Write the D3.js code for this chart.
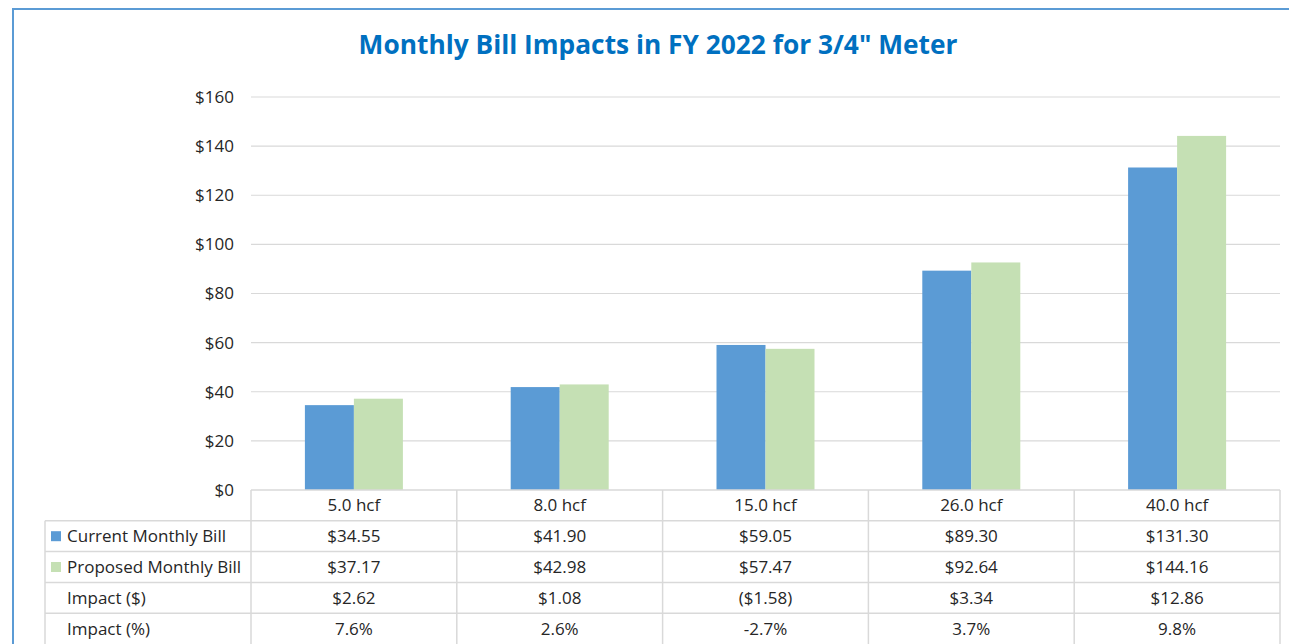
<!DOCTYPE html>
<html>
<head>
<meta charset="utf-8">
<script src="https://cdn.jsdelivr.net/npm/d3@7"></script>
<style>
  body { margin: 0; background: #fff; }
  svg { display: block; font-family: "Open Sans", Lato, sans-serif; }
</style>
</head>
<body>
<div id="chart"></div>
<script>
const categories = ["5.0 hcf", "8.0 hcf", "15.0 hcf", "26.0 hcf", "40.0 hcf"];
const currentBill = [34.55, 41.90, 59.05, 89.30, 131.30];
const proposedBill = [37.17, 42.98, 57.47, 92.64, 144.16];
const yTicks = [0, 20, 40, 60, 80, 100, 120, 140, 160];
const seriesNames = ["Current Monthly Bill", "Proposed Monthly Bill"];
const colours = ["#5b9bd5", "#c5e0b4"];

const width = 1289;
const height = 644;
const margin = { top: 97, left: 251, right: 9, bottom: 154 };
const fontSize = "17px";
const textCol = "#262626";

const svg = d3
  .select("#chart")
  .append("svg")
  .attr("width", width)
  .attr("height", height);

// chart frame (only left + top visible)
svg.append("rect")
  .attr("x", 13).attr("y", 9)
  .attr("width", 1400).attr("height", 800)
  .attr("fill", "#fff")
  .attr("stroke", "#5b9bd5")
  .attr("stroke-width", 2);

svg.append("text")
  .attr("x", 658).attr("y", 54)
  .attr("text-anchor", "middle")
  .attr("font-size", "26.3px")
  .attr("font-weight", "bold")
  .attr("fill", "#0070c0")
  .text('Monthly Bill Impacts in FY 2022 for 3/4" Meter');

const x = d3.scaleBand()
  .domain(categories)
  .range([margin.left, width - margin.right]);

const y = d3.scaleLinear()
  .domain([0, 160])
  .range([height - margin.bottom, margin.top]);

const inner = d3.scaleBand()
  .domain([0, 1])
  .range([0, x.bandwidth()])
  .paddingOuter(1.1)
  .paddingInner(0);

// gridlines
svg.append("g")
  .selectAll("line")
  .data(yTicks.slice(1))
  .join("line")
  .attr("x1", margin.left).attr("x2", width - margin.right)
  .attr("y1", d => y(d)).attr("y2", d => y(d))
  .attr("stroke", "#d9d9d9")
  .attr("stroke-width", 1.2);

// y labels
const yAxis = svg.append("g")
  .attr("transform", `translate(${margin.left},0)`)
  .call(d3.axisLeft(y).tickValues(yTicks).tickFormat(d => "$" + d).tickSize(0).tickPadding(17));
yAxis.select(".domain").remove();
yAxis.selectAll("text").attr("font-size", fontSize).attr("fill", textCol).attr("font-family", '"Open Sans", sans-serif');

// bars
const series = [currentBill, proposedBill];
series.forEach((vals, s) => {
  svg.append("g")
    .selectAll("rect")
    .data(vals)
    .join("rect")
    .attr("x", (d, i) => x(categories[i]) + inner(s))
    .attr("width", inner.bandwidth())
    .attr("y", d => y(d))
    .attr("height", d => y(0) - y(d))
    .attr("fill", colours[s]);
});

// data table
const fmtMoney = d => d < 0 ? "($" + Math.abs(d).toFixed(2) + ")" : "$" + d.toFixed(2);
const impactD = currentBill.map((c, i) => +(proposedBill[i] - c).toFixed(2));
const impactP = currentBill.map((c, i) => ((proposedBill[i] - c) / c * 100).toFixed(1) + "%");
const rows = [
  { label: seriesNames[0], key: colours[0], cells: currentBill.map(fmtMoney) },
  { label: seriesNames[1], key: colours[1], cells: proposedBill.map(fmtMoney) },
  { label: "Impact ($)", key: null, cells: impactD.map(fmtMoney) },
  { label: "Impact (%)", key: null, cells: impactP }
];

const rowH = 30.8;
const tableTop = y(0);
const labelLeft = 45;
const right = width - margin.right;
const lineCol = "#d9d9d9";
const tbl = svg.append("g");

// header row
tbl.append("line").attr("x1", margin.left).attr("x2", right)
  .attr("y1", tableTop).attr("y2", tableTop).attr("stroke", lineCol).attr("stroke-width", 1.5);
tbl.selectAll(".hdr").data(categories).join("text")
  .attr("x", d => x(d) + x.bandwidth() / 2)
  .attr("y", tableTop + rowH / 2 + 6)
  .attr("text-anchor", "middle").attr("font-size", fontSize).attr("fill", textCol)
  .text(d => d);

rows.forEach((r, ri) => {
  const top = tableTop + rowH * (ri + 1);
  tbl.append("line").attr("x1", labelLeft).attr("x2", right)
    .attr("y1", top).attr("y2", top).attr("stroke", lineCol).attr("stroke-width", 1.5);
  if (r.key) {
    tbl.append("rect").attr("x", 51).attr("y", top + rowH / 2 - 5)
      .attr("width", 10).attr("height", 10).attr("fill", r.key);
  }
  tbl.append("text").attr("x", 67).attr("y", top + rowH / 2 + 6)
    .attr("font-size", fontSize).attr("fill", textCol).text(r.label);
  tbl.selectAll(null).data(r.cells).join("text")
    .attr("x", (d, i) => x(categories[i]) + x.bandwidth() / 2)
    .attr("y", top + rowH / 2 + 6)
    .attr("text-anchor", "middle").attr("font-size", fontSize).attr("fill", textCol)
    .text(d => d);
});

// vertical lines
const bottom = tableTop + rowH * 5 + 5;
categories.concat([null]).forEach((c, i) => {
  const xx = c ? x(c) : right;
  tbl.append("line").attr("x1", xx).attr("x2", xx)
    .attr("y1", tableTop).attr("y2", bottom).attr("stroke", lineCol).attr("stroke-width", 1.5);
});
tbl.append("line").attr("x1", labelLeft).attr("x2", labelLeft)
  .attr("y1", tableTop + rowH).attr("y2", bottom).attr("stroke", lineCol).attr("stroke-width", 1.5);
</script>
</body>
</html>
